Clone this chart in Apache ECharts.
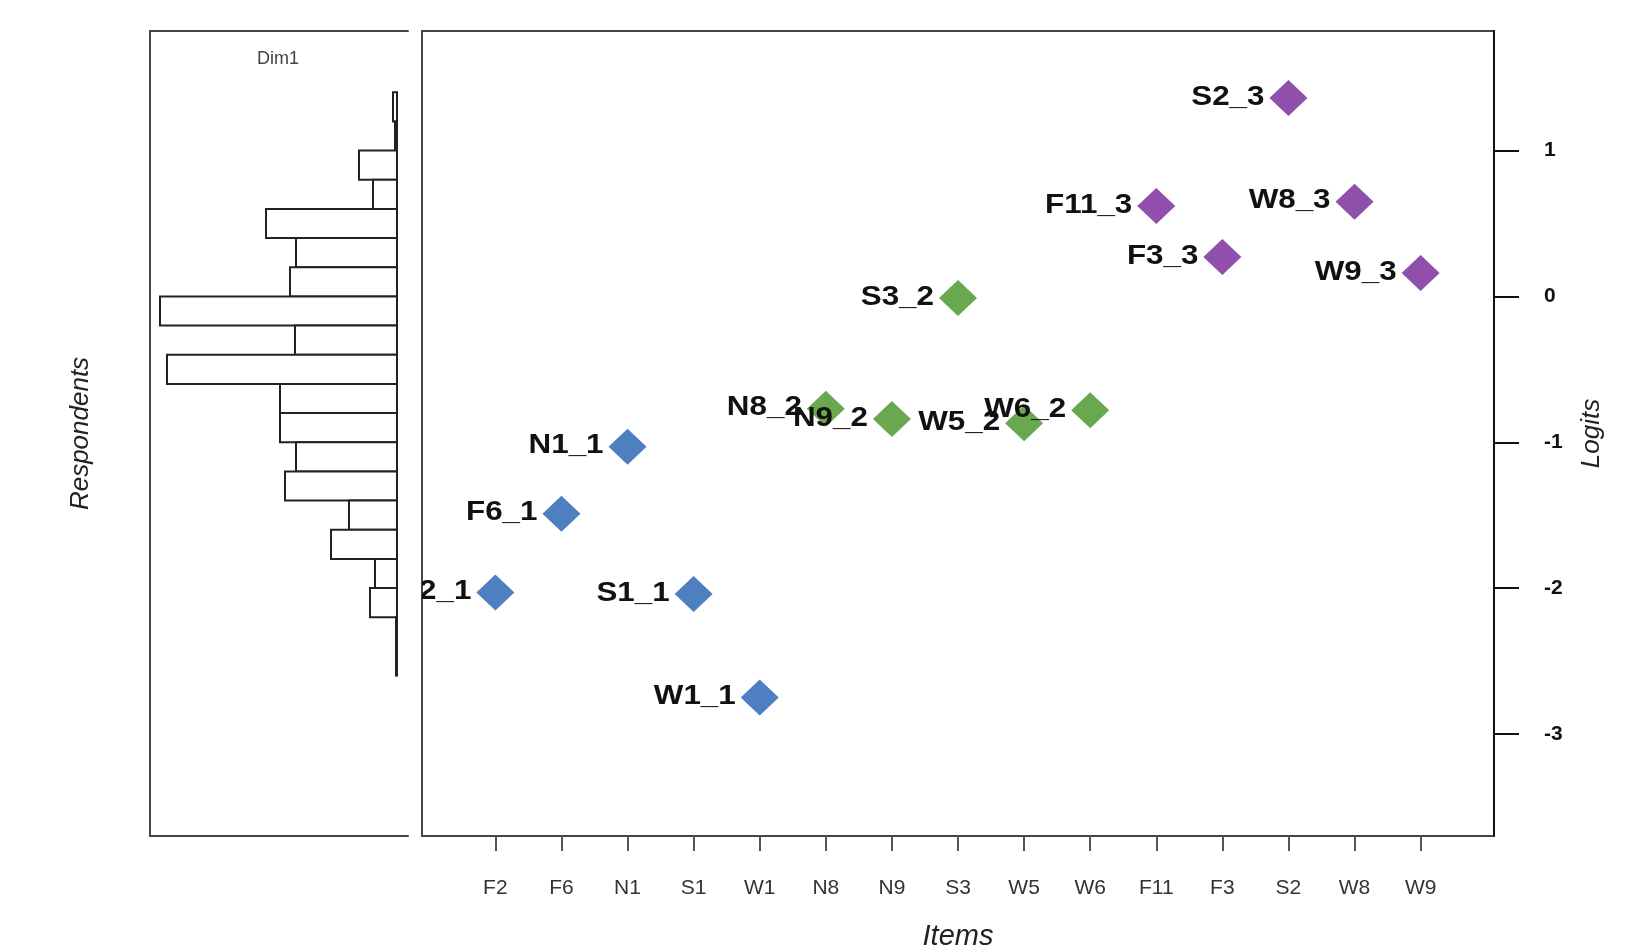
<!DOCTYPE html>
<html>
<head>
<meta charset="utf-8">
<title>Wright map</title>
<script src="https://cdn.jsdelivr.net/npm/echarts@6/dist/echarts.min.js"></script>
<style>
  html, body { margin: 0; padding: 0; background: #fff; }
  #chart { width: 1641px; height: 946px; }
</style>
</head>
<body>
<div id="chart"></div>
<script>
// items along the bottom axis, in plotting order
var itemCodes = ['F2', 'F6', 'N1', 'S1', 'W1', 'N8', 'N9', 'S3', 'W5', 'W6', 'F11', 'F3', 'S2', 'W8', 'W9']
var thresholdLabels = ['F2_1', 'F6_1', 'N1_1', 'S1_1', 'W1_1', 'N8_2', 'N9_2', 'S3_2', 'W5_2', 'W6_2',
  'F11_3', 'F3_3', 'S2_3', 'W8_3', 'W9_3']
var thresholdLevel = [1, 1, 1, 1, 1, 2, 2, 2, 2, 2, 3, 3, 3, 3, 3]
var thresholdLogits = [-2.03, -1.49, -1.03, -2.04, -2.75, -0.77, -0.84, -0.01, -0.87, -0.78,
  0.62, 0.27, 1.36, 0.65, 0.16]

// respondents histogram (Dim1): upper edge of each 0.2 logit bin and bar length
var binUpper = [1.4, 1.2, 1.0, 0.8, 0.6, 0.4, 0.2, 0.0, -0.2, -0.4, -0.6, -0.8, -1.0, -1.2, -1.4, -1.6, -1.8, -2.0, -2.2, -2.4]
var binCounts = [4, 2, 38, 24, 131, 101, 107, 237, 102, 230, 117, 117, 101, 112, 48, 66, 22, 27, 1, 1]
var binWidth = 0.2

var logitTicks = [-3, -2, -1, 0, 1]
var levelColors = { 1: '#4e7fc0', 2: '#6aa84f', 3: '#8f4fab' }

var font = '"Liberation Sans", Arial, Helvetica, sans-serif'
var yMin = -3.7
var yMax = 1.82

var chart = echarts.init(document.getElementById('chart'))

var histData = binUpper.map(function (top, i) {
  return [top - binWidth, top, binCounts[i]]
})

var itemPositions = itemCodes.map(function (c, i) { return i + 1 })
var pointData = itemCodes.map(function (c, i) { return [i + 1, thresholdLogits[i]] })

var levelSeries = [1, 2, 3].map(function (lvl) {
  return {
    type: 'scatter',
    name: 'level ' + lvl,
    xAxisIndex: 2,
    yAxisIndex: 1,
    symbol: 'diamond',
    symbolSize: [38, 36],
    itemStyle: { color: levelColors[lvl], opacity: 1 },
    z: 3,
    data: pointData.filter(function (p, i) { return thresholdLevel[i] === lvl })
  }
})

chart.setOption({
  animation: false,
  backgroundColor: '#fff',
  textStyle: { fontFamily: font },
  title: {
    text: 'Dim1',
    left: 273,
    top: 45,
    textAlign: 'center',
    textStyle: { fontFamily: font, fontSize: 18, fontWeight: 'normal', color: '#444' }
  },
  grid: [
    { left: 150, top: 31, width: 258, bottom: 110, show: false, outerBoundsMode: 'none', containLabel: false },
    { left: 422, top: 31, right: 147, bottom: 110, show: true, borderColor: '#444', borderWidth: 2, outerBoundsMode: 'none', containLabel: false }
  ],
  xAxis: [
    {
      gridIndex: 0, type: 'value', position: 'bottom', min: -11, max: 247, inverse: true,
      axisLine: { show: true, onZero: false, lineStyle: { color: '#444', width: 2 } },
      axisTick: { show: false }, axisLabel: { show: false }, splitLine: { show: false }
    },
    {
      gridIndex: 0, type: 'value', position: 'top', min: -11, max: 247, inverse: true,
      axisLine: { show: true, onZero: false, lineStyle: { color: '#444', width: 2 } },
      axisTick: { show: false }, axisLabel: { show: false }, splitLine: { show: false }
    },
    {
      gridIndex: 1, type: 'value', position: 'bottom', min: -0.11, max: 16.11,
      name: 'Items', nameLocation: 'middle', nameGap: 86,
      nameTextStyle: { fontFamily: font, fontSize: 29, fontStyle: 'italic', color: '#222' },
      axisLine: { show: false, onZero: false },
      axisTick: { show: true, length: 15, customValues: itemPositions, lineStyle: { color: '#555', width: 2 } },
      axisLabel: {
        show: true, margin: 42, customValues: itemPositions,
        fontFamily: font, fontSize: 21, color: '#333',
        formatter: function (v) { return itemCodes[Math.round(v) - 1] }
      },
      splitLine: { show: false }
    }
  ],
  yAxis: [
    {
      gridIndex: 0, type: 'value', position: 'left', min: yMin, max: yMax,
      name: 'Respondents', nameLocation: 'middle', nameGap: 56, nameRotate: 90,
      nameTextStyle: { fontFamily: font, fontSize: 26, fontStyle: 'italic', color: '#222' },
      axisLine: { show: true, onZero: false, lineStyle: { color: '#444', width: 2 } },
      axisTick: { show: false }, axisLabel: { show: false }, splitLine: { show: false }
    },
    {
      gridIndex: 1, type: 'value', position: 'right', min: yMin, max: yMax,
      name: 'Logits', nameLocation: 'middle', nameGap: 85, nameRotate: 90,
      nameTextStyle: { fontFamily: font, fontSize: 26, fontStyle: 'italic', color: '#222' },
      axisLine: { show: true, onZero: false, lineStyle: { color: '#111', width: 2 } },
      axisTick: { show: true, length: 25, customValues: logitTicks, lineStyle: { color: '#111', width: 2 } },
      axisLabel: {
        show: true, margin: 50, customValues: logitTicks,
        fontFamily: font, fontSize: 21, fontWeight: 'bold', color: '#111'
      },
      splitLine: { show: false }
    }
  ],
  series: [
    {
      // respondent distribution, bars grow leftwards from zero
      type: 'custom',
      xAxisIndex: 0,
      yAxisIndex: 0,
      data: histData,
      renderItem: function (params, api) {
        var a = api.coord([0, api.value(1)])
        var b = api.coord([api.value(2), api.value(0)])
        return {
          type: 'rect',
          shape: {
            x: Math.min(a[0], b[0]),
            y: Math.min(a[1], b[1]),
            width: Math.abs(a[0] - b[0]),
            height: Math.abs(a[1] - b[1])
          },
          style: { fill: '#fff', stroke: '#222', lineWidth: 2 }
        }
      }
    }
  ].concat(levelSeries).concat([
    {
      // threshold names, clipped to the plot box like the original
      type: 'custom',
      xAxisIndex: 2,
      yAxisIndex: 1,
      clip: true,
      z: 5,
      data: pointData,
      renderItem: function (params, api) {
        var p = api.coord([api.value(0), api.value(1)])
        return {
          type: 'text',
          x: p[0] - 24,
          y: p[1] - 1,
          scaleX: 1.12,
          style: {
            text: thresholdLabels[params.dataIndex],
            align: 'right',
            verticalAlign: 'middle',
            font: 'bold 28px ' + font,
            fill: '#111'
          }
        }
      }
    }
  ])
})
</script>
</body>
</html>
